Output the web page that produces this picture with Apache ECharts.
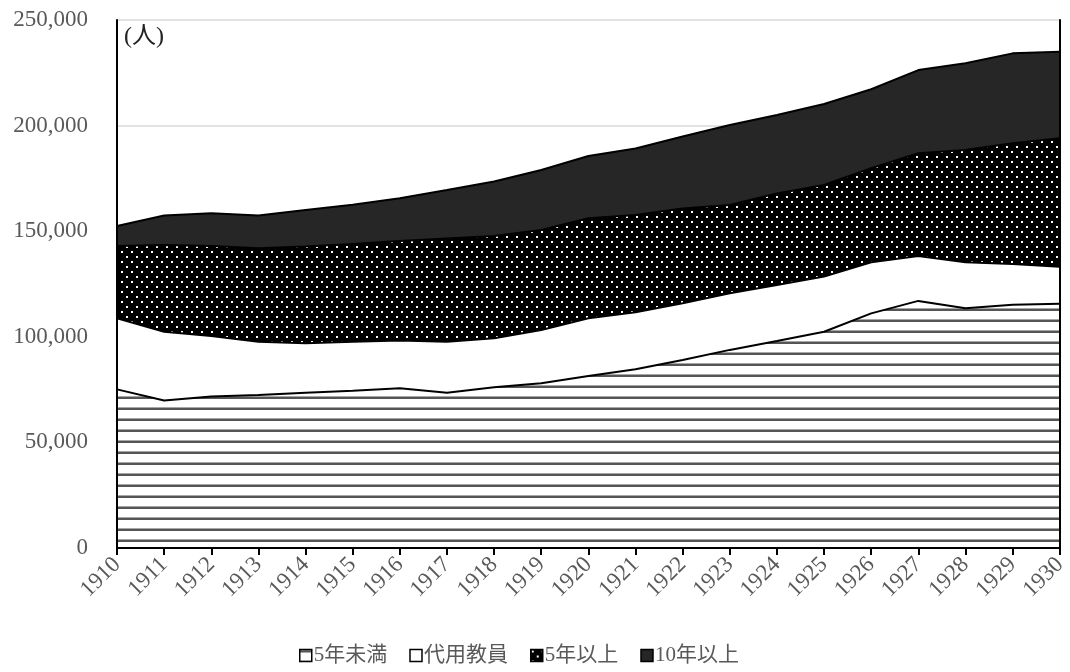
<!DOCTYPE html>
<html>
<head>
<meta charset="utf-8">
<script src="https://cdn.jsdelivr.net/npm/echarts@6/dist/echarts.min.js"></script>
<style>
  html, body { margin: 0; padding: 0; background: #fff; }
  #chart { width: 1070px; height: 672px; }
</style>
</head>
<body>
<div id="chart"></div>
<script>
// Teachers by years of service, 1910–1930 (persons, stacked)
const years = ['1910','1911','1912','1913','1914','1915','1916','1917','1918','1919','1920',
               '1921','1922','1923','1924','1925','1926','1927','1928','1929','1930'];
const under5 = [75100, 69800, 71700, 72400, 73500, 74500, 75600, 73500, 76100, 78000, 81400,
                84600, 89000, 93800, 98000, 102400, 111100, 117000, 113500, 115200, 115700];
const substitute = [33700, 32600, 28700, 25300, 23400, 23200, 22600, 24200, 23200, 25200, 27400,
                    27000, 26900, 26800, 26500, 26100, 24200, 21300, 21800, 19300, 17500];
const over5 = [34200, 41100, 42600, 44200, 45800, 46200, 47200, 48900, 48400, 47400, 47300,
               46100, 44900, 41800, 43400, 43400, 44500, 48600, 53100, 57100, 60800];
const over10 = [9500, 13900, 15500, 15500, 17300, 18600, 20200, 22900, 25800, 28400, 29500,
                31500, 34000, 37900, 37100, 38300, 37400, 39400, 41100, 42600, 41000];
const seriesNames = ['5年未満', '代用教員', '5年以上', '10年以上'];
const unitLabel = '(人)';

const FONT = "'Liberation Serif', 'Times New Roman', 'Noto Sans CJK JP', serif";

// horizontal hatching
function stripeTile() {
  const c = document.createElement('canvas');
  c.width = 8; c.height = 11;
  const g = c.getContext('2d');
  g.fillStyle = '#ffffff'; g.fillRect(0, 0, 8, 11);
  g.fillStyle = '#a6a6a6'; g.fillRect(0, 0, 8, 1);
  g.fillStyle = '#555555'; g.fillRect(0, 1, 8, 2);
  return c;
}
// white dots on black, staggered rows
function dotTile() {
  const c = document.createElement('canvas');
  c.width = 10; c.height = 10;
  const g = c.getContext('2d');
  g.fillStyle = '#000000'; g.fillRect(0, 0, 10, 10);
  g.fillStyle = '#ffffff';
  g.fillRect(1, 1, 2, 2);
  g.fillRect(6, 6, 2, 2);
  return c;
}

const fills = [
  { image: stripeTile(), repeat: 'repeat' },
  '#ffffff',
  { image: dotTile(), repeat: 'repeat' },
  '#262626'
];
const values = [under5, substitute, over5, over10];

const chart = echarts.init(document.getElementById('chart'), null, { renderer: 'canvas' });

const frameLine = { show: true, lineStyle: { color: '#000', width: 2 } };

// filled bands (no outline) ...
const areaSeries = seriesNames.map((n, i) => ({
  name: n,
  type: 'line',
  stack: 'bands',
  data: values[i],
  symbol: 'none',
  z: 2,
  itemStyle: { color: fills[i] },
  lineStyle: { width: 0, opacity: 0 },
  areaStyle: { color: fills[i], opacity: 1 }
}));
// ... and their black outlines drawn on top
const outlineSeries = seriesNames.map((n, i) => ({
  name: n + ' outline',
  type: 'line',
  stack: 'outlines',
  data: values[i],
  symbol: 'none',
  silent: true,
  z: 5,
  lineStyle: { color: '#000', width: 2 }
}));

chart.setOption({
  animation: false,
  backgroundColor: '#ffffff',
  grid: { left: 117, right: 7, top: 20, bottom: 124, containLabel: false },
  xAxis: [{
    type: 'category',
    data: years,
    boundaryGap: false,
    z: 10,
    axisLine: frameLine,
    axisTick: { show: true, alignWithLabel: true, length: 7, lineStyle: { color: '#000', width: 2 } },
    axisLabel: { rotate: 45, margin: 13, fontSize: 23, color: '#595959', fontFamily: FONT, interval: 0,
                 padding: [0, 0, 0, 0] },
    splitLine: { show: false }
  }, {
    type: 'category',
    data: years,
    position: 'top',
    boundaryGap: false,
    z: 10,
    axisLine: frameLine,
    axisTick: { show: false },
    axisLabel: { show: false }
  }],
  yAxis: [{
    type: 'value',
    min: 0, max: 250000, interval: 50000,
    axisLine: { show: false },
    axisTick: { show: false },
    axisLabel: {
      fontSize: 23, color: '#595959', fontFamily: FONT, margin: 29,
      formatter: v => v.toLocaleString('en-US')
    },
    splitLine: { show: true, lineStyle: { color: '#d9d9d9', width: 1.5 } }
  }, {
    type: 'value',
    min: 0, max: 250000, interval: 50000,
    position: 'left',
    z: 10,
    axisLine: frameLine,
    axisTick: { show: false },
    axisLabel: { show: false },
    splitLine: { show: false }
  }, {
    type: 'value',
    min: 0, max: 250000, interval: 50000,
    position: 'right',
    z: 10,
    axisLine: frameLine,
    axisTick: { show: false },
    axisLabel: { show: false },
    splitLine: { show: false }
  }],
  legend: {
    bottom: 1,
    left: 294,
    icon: 'rect',
    itemWidth: 12,
    itemHeight: 12,
    itemGap: 22,
    textStyle: { fontSize: 21, color: '#595959', fontFamily: FONT, padding: [0, 0, 0, -3] },
    data: seriesNames.map((n, i) => ({
      name: n,
      itemStyle: { color: fills[i], borderColor: '#000', borderWidth: 1.5 }
    }))
  },
  graphic: [{
    type: 'text',
    left: 124, top: 25,
    style: { text: unitLabel, fill: '#222', font: "24px 'Liberation Serif', 'Noto Sans CJK JP', serif" }
  }],
  series: areaSeries.concat(outlineSeries)
});
</script>
</body>
</html>
